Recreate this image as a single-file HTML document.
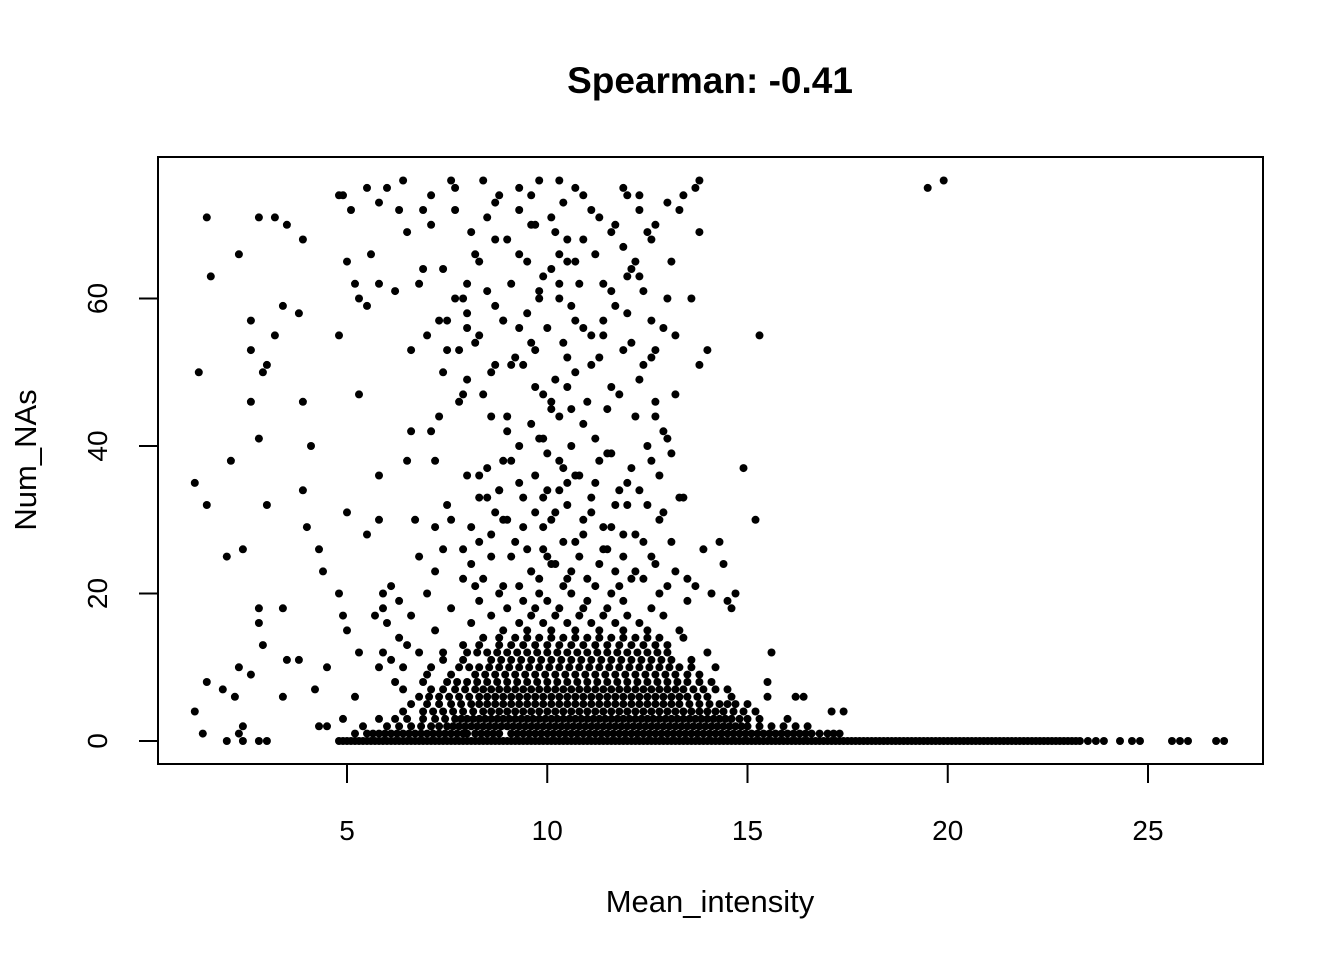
<!DOCTYPE html>
<html><head><meta charset="utf-8"><style>
html,body{margin:0;padding:0;background:#fff;}
svg text{font-family:"Liberation Sans",Arial,sans-serif;fill:#000;}
</style></head><body>
<svg id="chart" width="1344" height="960" viewBox="0 0 1344 960" xmlns="http://www.w3.org/2000/svg">
<rect width="1344" height="960" fill="#fff"/>
<text x="710" y="93" font-size="37" font-weight="bold" text-anchor="middle">Spearman: -0.41</text>
<rect x="158" y="157" width="1105" height="607" fill="none" stroke="#000" stroke-width="2"/>
<g id="xaxis"></g>
<g id="yaxis"></g>
<text x="710" y="912" font-size="31" text-anchor="middle">Mean_intensity</text>
<text x="0" y="0" font-size="31" text-anchor="middle" transform="translate(36,460) rotate(-90)">Num_NAs</text>
<g id="points"></g>
</svg>
<script>
const xTicks=[5,10,15,20,25];
const yTicks=[0,20,40,60];
const baseX=[2.0,2.4,2.8,3.0,4.8,4.9,5.0,5.1,5.2,5.3,5.4,5.5,5.6,5.7,5.8,5.9,6.0,6.1,6.2,6.3,6.4,6.5,6.6,6.7,6.8,6.9,7.0,7.1,7.2,7.3,7.4,7.5,7.6,7.7,7.8,7.9,8.0,8.1,8.2,8.3,8.4,8.5,8.6,8.7,8.8,8.9,9.0,9.1,9.2,9.3,9.4,9.5,9.6,9.7,9.8,9.9,10.0,10.1,10.2,10.3,10.4,10.5,10.6,10.7,10.8,10.9,11.0,11.1,11.2,11.3,11.4,11.5,11.6,11.7,11.8,11.9,12.0,12.1,12.2,12.3,12.4,12.5,12.6,12.7,12.8,12.9,13.0,13.1,13.2,13.3,13.4,13.5,13.6,13.7,13.8,13.9,14.0,14.1,14.2,14.3,14.4,14.5,14.6,14.7,14.8,14.9,15.0,15.1,15.2,15.3,15.4,15.5,15.6,15.7,15.8,15.9,16.0,16.1,16.2,16.3,16.4,16.5,16.6,16.7,16.8,16.9,17.0,17.1,17.2,17.3,17.4,17.5,17.6,17.7,17.8,17.9,18.0,18.1,18.2,18.3,18.4,18.5,18.6,18.7,18.8,18.9,19.0,19.1,19.2,19.3,19.4,19.5,19.6,19.7,19.8,19.9,20.0,20.1,20.2,20.3,20.4,20.5,20.6,20.7,20.8,20.9,21.0,21.1,21.2,21.3,21.4,21.5,21.6,21.7,21.8,21.9,22.0,22.1,22.2,22.3,22.4,22.5,22.6,22.7,22.8,22.9,23.0,23.1,23.2,23.3,23.5,23.7,23.9,24.3,24.6,24.8,25.6,25.8,26.0,26.7,26.9];
const row1=[5.5,5.8,6.1,6.4,6.7,7.0,7.3,7.6,7.9,8.2,8.5,8.8,9.1,9.4,9.7,10.0,10.3,10.6,10.9,11.2,11.5,11.8,12.1,12.4,12.7,13.0,13.3,13.6,13.9,14.2,14.5,14.8,15.1,15.4,15.7,16.0,16.3,16.6,17.0,17.3,1.4,2.3,8.0,8.35,8.65,9.25,9.55,9.85,10.15,10.45,10.75,11.05,11.35,11.65,11.95,12.25,12.55];
const row2=[6.0,6.6,7.1,7.5,7.8,8.1,8.4,8.7,9.0,9.3,9.6,9.9,10.2,10.5,10.8,11.1,11.4,11.7,12.0,12.3,12.6,12.9,13.2,13.5,13.8,14.1,14.4,14.7,15.0,15.3,16.5,2.4,4.5,4.3];
const row3=[6.5,7.2,7.7,8.0,8.3,8.6,8.9,9.2,9.5,9.8,10.1,10.4,10.7,11.0,11.3,11.6,11.9,12.2,12.5,12.8,13.1,13.4,13.7,14.0,14.3,14.6,15.0,16.0,4.9];
const row4=[6.9,7.4,7.9,8.4,8.8,9.2,9.6,10.0,10.4,10.8,11.2,11.6,12.0,12.4,12.8,13.2,13.6,14.0,14.4,14.9,15.2,17.1,17.4,1.2];
const row5=[7.0,7.6,8.1,8.5,8.9,9.3,9.7,10.1,10.5,10.9,11.3,11.7,12.1,12.5,12.9,13.3,13.8,14.3,14.7];
const row6=[6.8,7.3,7.8,8.3,8.7,9.1,9.5,9.9,10.3,10.7,11.1,11.5,11.9,12.3,12.7,13.1,13.5,14.0,14.6,15.5,16.2,16.4,2.2,3.4,5.2];
const row7=[7.1,7.7,8.2,8.6,9.0,9.4,9.8,10.2,10.6,11.0,11.4,11.8,12.2,12.6,13.0,13.4,13.9,14.5,1.9,4.2];
const row8=[6.2,7.5,8.0,8.5,9.0,9.5,10.0,10.5,11.0,11.5,12.0,12.5,13.0,13.5,14.1,15.5,1.5];
const row9=[7.0,8.2,8.7,9.2,9.7,10.2,10.7,11.2,11.7,12.2,12.7,13.2,13.8,2.6];
const row10=[5.8,6.4,7.8,8.3,8.8,9.3,9.8,10.3,10.8,11.3,11.8,12.3,12.8,13.3,14.2,2.3,4.5];
const row11=[6.1,7.4,8.6,9.1,9.6,10.1,10.6,11.1,11.6,12.1,12.6,13.1,13.6,3.8,3.5];
const row12=[5.9,6.8,8.0,8.5,9.0,9.5,10.0,10.5,11.0,11.5,12.0,12.5,13.0,14.0,15.6,5.3];
const row13=[6.5,7.9,8.8,9.4,10.0,10.6,11.2,11.8,12.4,13.0,2.9];
const row14=[6.3,8.4,9.2,9.8,10.4,11.0,11.6,12.2,12.8,13.4];
const row15=[7.2,8.9,9.5,10.1,10.7,11.3,11.9,12.5,13.3,5.0];
const row16=[6.0,8.1,9.3,9.9,10.5,11.1,11.7,12.3,2.8];
const row17=[5.7,6.6,8.6,9.6,10.2,10.8,11.4,12.0,12.9,4.9];
const row18=[5.9,7.6,9.0,9.7,10.3,10.9,11.5,12.6,14.6,2.8,3.4];
const row19=[6.3,8.3,9.4,10.0,11.0,11.9,13.5,14.5];
const row20=[4.8,7.0,8.8,9.8,10.6,11.6,12.8,14.1,14.7,5.9];
const rowsX=[row1,row2,row3,row4,row5,row6,row7,row8,row9,row10,row11,row12,row13,row14,row15,row16,row17,row18,row19,row20];
const rowb1=[5.2,5.65,5.95,6.25,6.55,6.85,7.15,7.45,7.75,12.85,13.15,13.45,13.75,14.05,14.35,14.65,14.95,15.25,15.55,15.85,16.15,16.45,16.8,17.15];
const rowb2=[5.4,6.3,6.85,7.3,7.65,7.95,8.25,8.55,8.85,9.15,9.45,9.75,10.05,10.35,10.65,10.95,11.25,11.55,11.85,12.15,12.45,12.75,13.05,13.35,13.65,13.95,14.25,14.55,14.85,15.6,15.9,16.2];
const rowb3=[5.8,6.2,6.9,7.45,7.85,8.15,8.45,8.75,9.05,9.35,9.65,9.95,10.25,10.55,10.85,11.15,11.45,11.75,12.05,12.35,12.65,12.95,13.25,13.55,13.85,14.15,14.45,14.8,15.3];
const rowb4=[6.4,7.15,7.65,8.15,8.6,9.0,9.4,9.8,10.2,10.6,11.0,11.4,11.8,12.2,12.6,13.0,13.4,13.8,14.2,14.65];
const rowb5=[6.6,7.3,7.85,8.3,8.7,9.1,9.5,9.9,10.3,10.7,11.1,11.5,11.9,12.3,12.7,13.1,13.55,14.05,14.5,15.0];
const rowb6=[7.05,7.55,8.05,8.5,8.9,9.3,9.7,10.1,10.5,10.9,11.3,11.7,12.1,12.5,12.9,13.3,13.75];
const rowb7=[6.4,7.4,7.95,8.4,8.8,9.2,9.6,10.0,10.4,10.8,11.2,11.6,12.0,12.4,12.8,13.2,13.65,14.2];
const rowb8=[6.9,7.75,8.25,8.75,9.25,9.75,10.25,10.75,11.25,11.75,12.25,12.75,13.25,13.8];
const rowb9=[7.6,8.45,8.95,9.45,9.95,10.45,10.95,11.45,11.95,12.45,12.95,13.5];
const rowb10=[7.1,8.05,8.55,9.05,9.55,10.05,10.55,11.05,11.55,12.05,12.55,13.05,13.6];
const rowb11=[7.9,8.85,9.35,9.85,10.35,10.85,11.35,11.85,12.35,12.85];
const rowb12=[7.4,8.25,8.75,9.25,9.75,10.25,10.75,11.25,11.75,12.25,12.75];
const rowb13=[8.3,9.1,9.7,10.3,10.9,11.5,12.1,12.7];
const rowb14=[8.8,9.5,10.1,10.7,11.3,11.9,12.5];
const rowsXb=[rowb1,rowb2,rowb3,rowb4,rowb5,rowb6,rowb7,rowb8,rowb9,rowb10,rowb11,rowb12,rowb13,rowb14];
const sparseX=[6.1,9.3,11.2,13.7,7.9,10.5,12.1,7.2,9.6,11.7,13.2,4.4,8.1,10.2,12.7,14.4,6.8,9.1,10.8,11.9,2.0,7.4,9.9,11.4,13.9,4.3,2.4,8.3,10.4,12.4,14.3,8.6,10.9,12.2,5.5,7.2,9.4,11.6,4.0,5.8,6.7,8.9,10.1,12.8,15.2,9.7,11.1,5.0,7.5,10.5,12.5,3.0,1.5,8.5,9.9,13.3,8.8,10.0,11.8,3.9,9.3,11.2,12.0,1.2,8.3,10.7,5.8,14.9,8.9,10.3,6.5,7.2,12.6,11.5,13.1,4.1,9.9,7.1,6.6,12.9,2.8,2.1,9.0,7.3,8.6,12.7,10.6,3.9,2.6,10.1,7.9,5.3,13.2,9.7,11.6,8.0,12.3,2.9,1.3,7.4,9.1,8.7,3.0,13.8,11.1,10.5,14.0,12.7,6.6,7.8,2.6,9.6,12.1,7.0,8.3,15.3,4.8,3.2,11.4,10.9,8.0,9.3,3.4,2.6,3.8,7.5,8.9,10.7,12.6,5.5,8.7,11.7,9.8,7.9,13.0,12.4,5.3,6.2,5.8,5.2,6.8,8.0,10.3,11.4,12.0,9.9,6.9,5.0,9.5,10.7,12.2,5.6,8.2,10.3,11.9,9.0,2.3,3.9,1.6,10.5,12.6,6.5,11.6,13.8,7.1,9.7,12.7,8.5,10.1,11.3,2.8,3.2,3.5,1.5,6.3,5.1,7.7,9.3,11.1,12.3,6.9,8.7,10.4,13.3,4.8,5.8,7.1,8.8,9.6,10.9,12.0,13.0,13.4,6.0,7.7,9.3,10.7,11.9,13.7,6.4,8.4,9.8,10.3,12.3,13.8,19.5,19.9,7.6,5.5,4.9];
const sparseY=[21,21,21,21,22,22,22,23,23,23,23,23,24,24,24,24,25,25,25,25,25,26,26,26,26,26,26,27,27,27,27,28,28,28,28,29,29,29,29,30,30,30,30,30,30,31,31,31,32,32,32,32,32,33,33,33,34,34,34,34,35,35,35,35,36,36,36,37,38,38,38,38,38,39,39,40,41,42,42,42,41,38,42,44,44,44,45,46,46,46,47,47,47,48,48,49,49,50,50,50,51,51,51,51,51,52,53,53,53,53,53,54,54,55,55,55,55,55,55,56,56,56,59,57,58,57,57,57,57,59,59,59,60,60,60,61,60,61,62,62,62,62,62,62,63,63,64,65,65,65,65,66,66,66,67,68,66,68,63,68,68,69,69,69,70,70,70,71,71,71,71,71,70,71,72,72,72,72,72,72,72,73,73,72,74,73,74,74,74,74,74,73,74,75,75,75,75,75,75,76,76,76,76,74,76,75,76,76,75,74];
const midX=[8.2,8.4,8.9,9.6,9.8,10.1,10.4,10.6,11.0,11.3,11.8,12.2,12.4,13.0,13.5,7.9,8.6,9.2,9.5,10.0,10.7,11.5,11.9,12.6,13.1,7.6,8.1,8.7,9.0,9.9,10.2,10.9,11.4,12.0,12.9,8.3,8.8,9.4,10.3,10.5,11.1,11.7,12.3,13.4,8.0,8.5,9.1,9.7,10.4,10.8,11.3,12.1,12.8,9.3,9.8,10.0,10.6,11.2,11.6,12.5,13.0,9.0,9.6,10.1,10.3,10.9,11.5,12.2,7.8,8.4,9.9,10.5,11.0,11.8,12.7,8.6,9.4,10.2,10.7,11.3,12.4,7.5,8.2,9.2,9.7,10.4,11.1,11.9,12.6,13.2,7.3,8.0,8.9,9.5,10.0,10.6,11.4,12.0,12.9,7.7,8.5,9.1,9.8,10.3,10.8,11.6,12.3,13.6,7.4,8.3,9.3,10.1,10.5,11.2,12.1,13.1,8.1,8.7,9.6,10.2,10.9,11.7,12.5];
const midY=[21,22,21,23,22,24,21,23,22,24,21,23,22,21,22,26,25,27,26,25,27,26,28,25,27,30,29,31,30,29,31,30,29,32,31,33,34,33,34,35,33,32,34,33,36,37,38,36,37,36,38,37,36,40,41,39,40,41,39,40,41,44,43,45,44,43,45,44,46,47,47,48,46,47,46,50,51,49,50,52,51,53,54,52,53,54,55,53,52,55,57,58,57,58,56,59,57,58,56,60,61,62,61,60,62,61,63,60,64,65,66,64,65,66,64,65,69,68,70,69,68,70,69];

const NS="http://www.w3.org/2000/svg";
function sx(v){return 146.75+v*40.05;}
function sy(v){return 741-v*7.375;}
const xa=document.getElementById('xaxis'), ya=document.getElementById('yaxis'), pg=document.getElementById('points');
function mk(tag,attrs,parent){const e=document.createElementNS(NS,tag);for(const k in attrs)e.setAttribute(k,attrs[k]);parent.appendChild(e);return e;}
let l=mk('line',{x1:sx(xTicks[0]),x2:sx(xTicks[xTicks.length-1]),y1:764,y2:764,stroke:'#000','stroke-width':2},xa);


xTicks.forEach(t=>{
  const tk=mk('line',{x1:sx(t),x2:sx(t),y1:764,y2:783,stroke:'#000','stroke-width':2},xa);
  
  
  const tx=mk('text',{x:sx(t),y:840,'font-size':28,'text-anchor':'middle'},xa);
  tx.textContent=t;
  
  
});
l=mk('line',{x1:158,x2:158,y1:sy(yTicks[0]),y2:sy(yTicks[yTicks.length-1]),stroke:'#000','stroke-width':2},ya);


yTicks.forEach(t=>{
  const tk=mk('line',{x1:139,x2:158,y1:sy(t),y2:sy(t),stroke:'#000','stroke-width':2},ya);
  
  
  const tx=mk('text',{x:0,y:0,'font-size':28,'text-anchor':'middle',transform:'translate(107,'+sy(t)+') rotate(-90)'},ya);
  tx.textContent=t;
  
  
});
function dot(x,y){
  const c=mk('circle',{cx:sx(x).toFixed(1),cy:sy(y).toFixed(1),r:4,fill:'#000'},pg);
  
  
}
baseX.forEach(x=>dot(x,0));
rowsX.forEach((r,i)=>r.forEach(x=>dot(x,i+1)));
rowsXb.forEach((r,i)=>r.forEach(x=>dot(x,i+1)));
sparseX.forEach((x,i)=>dot(x,sparseY[i]));
midX.forEach((x,i)=>dot(x,midY[i]));
</script>
</body></html>
